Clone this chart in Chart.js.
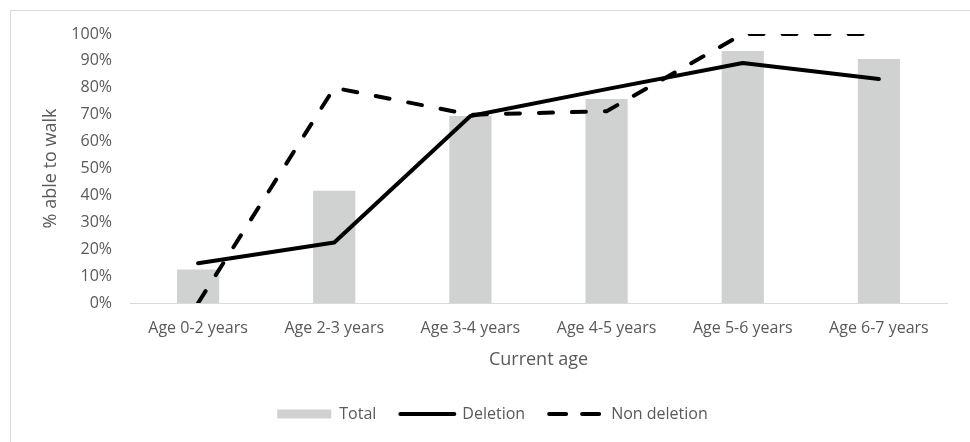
<!DOCTYPE html>
<html>
<head>
<meta charset="utf-8">
<script src="https://cdn.jsdelivr.net/npm/chart.js@4"></script>
<style>
  html, body { margin: 0; padding: 0; background: #fff; }
  #wrap { position: relative; width: 970px; height: 442px; overflow: hidden; }
  #frame { position: absolute; left: 10px; top: 10px; width: 1000px; height: 500px; border: 1px solid #d9d9d9; }
  canvas { position: absolute; left: 0; top: 0; }
</style>
</head>
<body>
<div id="wrap">
  <div id="frame"></div>
  <canvas id="walkChart" width="970" height="442"></canvas>
</div>
<script>
// % of children able to walk, by current age group.
const CATEGORIES = ['Age 0-2 years', 'Age 2-3 years', 'Age 3-4 years', 'Age 4-5 years', 'Age 5-6 years', 'Age 6-7 years'];
const TOTAL = [0.125, 0.417, 0.695, 0.758, 0.937, 0.907];
const DELETION = [0.148, 0.225, 0.695, 0.795, 0.892, 0.833];
const NON_DELETION = [0, 0.80, 0.70, 0.713, 1.0, 1.0];
const Y_TICKS = [0, 0.1, 0.2, 0.3, 0.4, 0.5, 0.6, 0.7, 0.8, 0.9, 1.0];

const TEXT = '#595959';
const FONT = '"Open Sans", "Noto Sans", sans-serif';
const BAR_GREY = '#d0d2d1';

function lineDataset(label, data, dash, order) {
  return {
    type: 'line',
    label,
    data,
    order,
    borderColor: '#000',
    backgroundColor: '#000',
    borderWidth: 4,
    borderDash: dash,
    borderCapStyle: 'round',
    borderJoinStyle: 'round',
    pointRadius: 0,
    tension: 0,
    fill: false,
  };
}

const ctx = document.getElementById('walkChart').getContext('2d');
new Chart(ctx, {
  type: 'bar',
  data: {
    labels: CATEGORIES,
    datasets: [
      {
        label: 'Total',
        data: TOTAL,
        order: 3,
        backgroundColor: BAR_GREY,
        barPercentage: 0.31,
        categoryPercentage: 1,
      },
      lineDataset('Deletion', DELETION, [], 1),
      lineDataset('Non deletion', NON_DELETION, [14, 19], 2),
    ],
  },
  options: {
    responsive: false,
    animation: false,
    layout: { padding: { left: 38, right: 23, top: 34, bottom: 10 } },
    scales: {
      x: {
        offset: true,
        grid: { display: false, drawTicks: false },
        border: { display: true, color: '#d9d9d9', width: 1 },
        ticks: { color: TEXT, font: { family: FONT, size: 16 }, padding: 16, maxRotation: 0 },
        title: { display: true, text: 'Current age', color: TEXT, font: { family: FONT, size: 18 }, padding: { top: 4, bottom: 11 } },
        afterFit: (scale) => { scale.height = 79; },
      },
      y: {
        min: 0,
        max: 1,
        grid: { display: false, drawTicks: false },
        border: { display: false },
        afterBuildTicks: (scale) => { scale.ticks = Y_TICKS.map((v) => ({ value: v })); },
        ticks: {
          color: TEXT,
          font: { family: FONT, size: 16 },
          padding: 18,
          callback: (v) => Math.round(v * 100) + '%',
        },
        title: { display: true, text: '% able to walk', color: TEXT, font: { family: FONT, size: 18 }, padding: { top: 2, bottom: 0 } },
        afterFit: (scale) => { scale.width = 92; },
      },
    },
    plugins: {
      tooltip: { enabled: false },
      legend: {
        position: 'bottom',
        labels: {
          color: TEXT,
          font: { family: FONT, size: 16 },
          usePointStyle: true,
          pointStyleWidth: 54,
          boxHeight: 9,
          padding: 24,
          generateLabels: (chart) => chart.data.datasets.map((ds, i) => ({
            text: ds.label,
            datasetIndex: i,
            fillStyle: ds.type === 'line' ? '#000' : BAR_GREY,
            strokeStyle: '#000',
            lineWidth: ds.type === 'line' ? 4 : 0,
            lineDash: ds.type === 'line' ? (ds.borderDash.length ? [17, 16] : []) : [],
            lineCap: 'round',
            pointStyle: ds.type === 'line' ? 'line' : 'rect',
            fontColor: TEXT,
            hidden: false,
          })),
        },
      },
    },
  },
});
</script>
</body>
</html>
